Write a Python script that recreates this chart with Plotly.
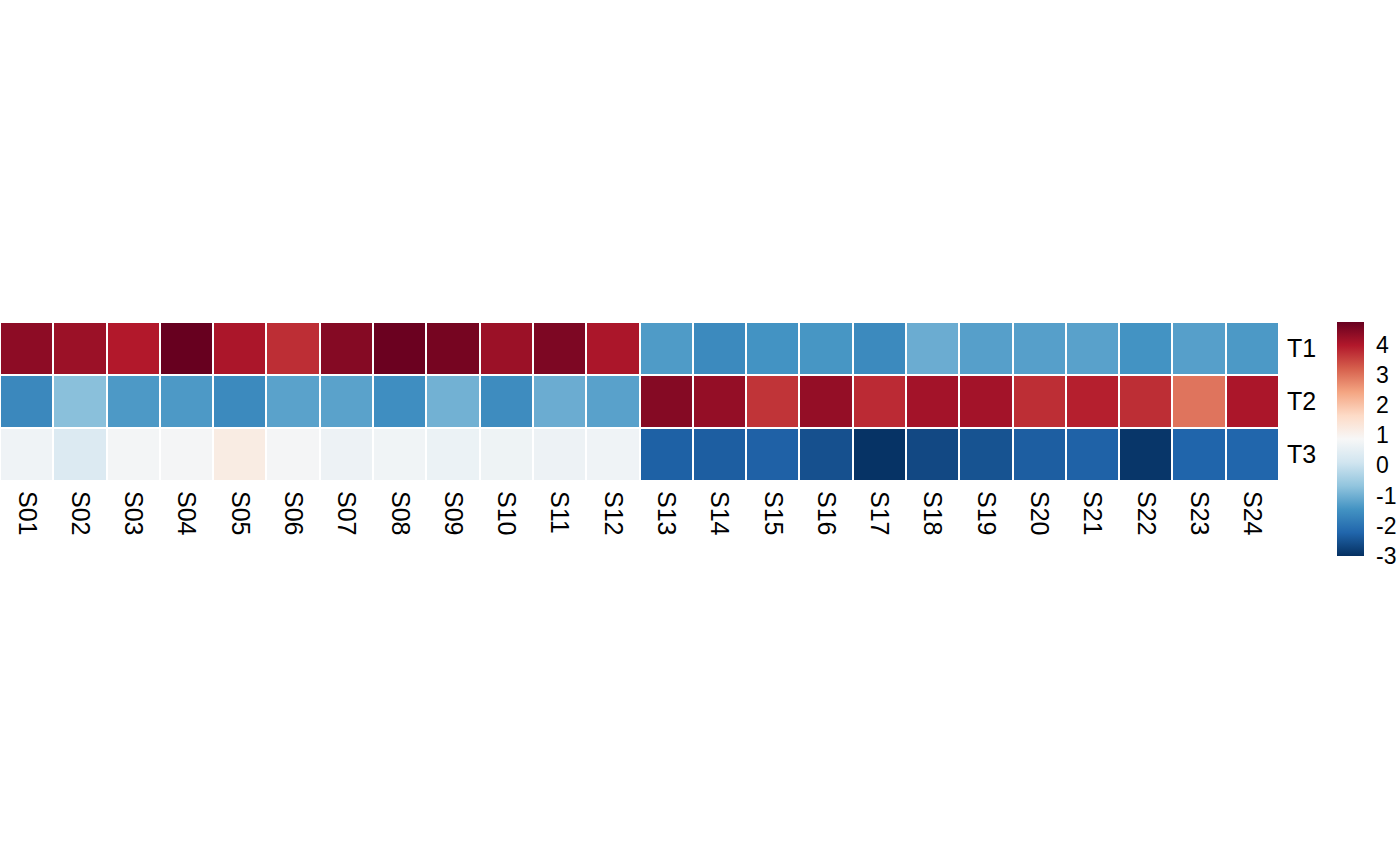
import plotly.graph_objects as go

samples = [f"S{i:02d}" for i in range(1, 25)]
rows = ["T1", "T2", "T3"]

t1 = [4.36, 4.21, 3.98, 4.75, 4.05, 3.74, 4.44, 4.71, 4.60, 4.21, 4.52, 4.05,
      -1.33, -1.61, -1.45, -1.41, -1.61, -1.06, -1.26, -1.26, -1.23, -1.45, -1.26, -1.36]
t2 = [-1.64, -0.75, -1.35, -1.35, -1.61, -1.22, -1.22, -1.53, -0.99, -1.57, -1.06, -1.23,
      4.44, 4.29, 3.67, 4.29, 3.78, 4.13, 4.13, 3.74, 3.90, 3.74, 2.97, 4.05]
t3 = [0.72, 0.33, 0.80, 0.81, 1.19, 0.81, 0.68, 0.74, 0.64, 0.70, 0.68, 0.72,
      -2.30, -2.34, -2.29, -2.54, -2.96, -2.65, -2.50, -2.34, -2.28, -2.92, -2.24, -2.23]

cbar_ticks = [-3, -2, -1, 0, 1, 2, 3, 4]
cbar_text = ["-3", "-2", "-1", "0", "1", "2", "3", "4"]

rdbu11 = ["#053061", "#2166AC", "#4393C3", "#92C5DE", "#D1E5F0", "#F7F7F7",
          "#FDDBC7", "#F4A582", "#D6604D", "#B2182B", "#67001F"]
colorscale = [[i / 10, c] for i, c in enumerate(rdbu11)]

FONT = "Liberation Sans, Arial, Helvetica, sans-serif"

fig = go.Figure(go.Heatmap(
    z=[t1, t2, t3],
    x=samples,
    y=rows,
    colorscale=colorscale,
    zmin=-3.0,
    zmax=4.75,
    xgap=2,
    ygap=2,
    colorbar=dict(
        lenmode="pixels", len=234,
        thickness=27,
        x=1.0454, xanchor="left",
        y=1, yanchor="top",
        xpad=0, ypad=0,
        outlinewidth=0,
        tickvals=cbar_ticks,
        ticktext=cbar_text,
        ticks="outside",
        ticklen=8,
        tickcolor="rgba(0,0,0,0)",
        tickfont=dict(family=FONT, size=23, color="black"),
    ),
))

fig.update_layout(
    width=1400, height=865,
    margin=dict(l=0, r=121, t=322, b=384, autoexpand=False),
    plot_bgcolor="white",
    paper_bgcolor="white",
    xaxis=dict(showgrid=False, zeroline=False, ticks="", tickangle=90,
               automargin=False, ticklabelstandoff=9,
               tickfont=dict(family=FONT, size=25, color="black")),
    yaxis=dict(showgrid=False, zeroline=False, ticks="", side="right",
               automargin=False, ticklabelstandoff=7,
               autorange="reversed",
               tickfont=dict(family=FONT, size=25, color="black")),
)

fig.write_html("out.html",
               config={"displayModeBar": False},
               post_script="document.body.style.margin='0px';document.body.style.overflow='hidden';")
